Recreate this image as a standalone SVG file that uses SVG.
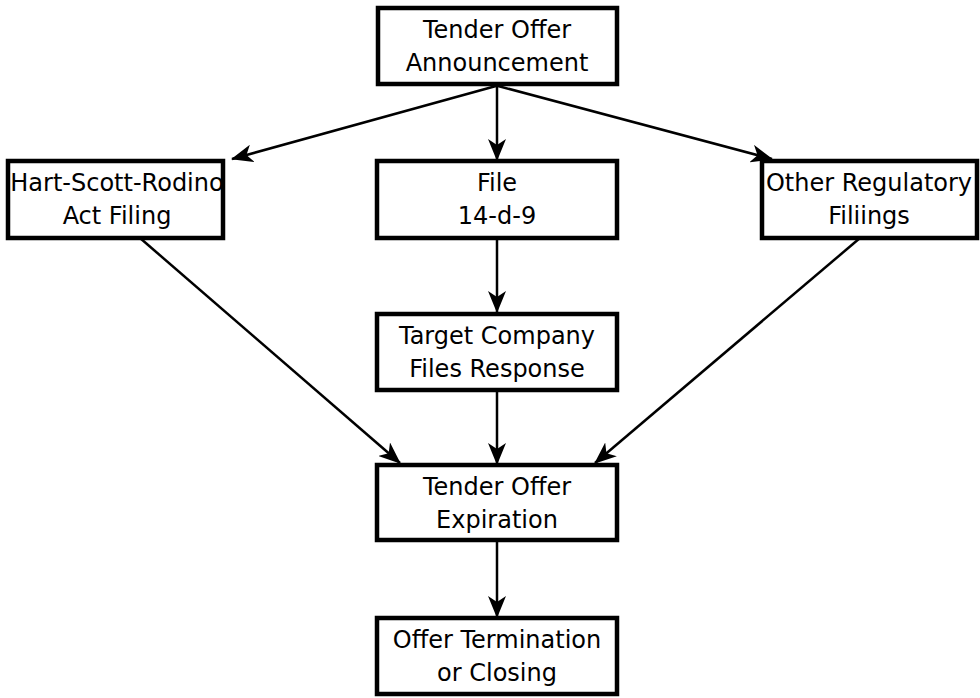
<svg xmlns="http://www.w3.org/2000/svg" width="980" height="698" viewBox="0 0 980 698">
<style>
.box{fill:#fff;stroke:#000;stroke-width:4.5}
.t{font-family:"DejaVu Sans",Verdana,sans-serif;font-size:24px;fill:#000;text-anchor:middle}
.c{stroke:#000;stroke-width:2.5;fill:none;marker-end:url(#ah)}
</style>
<defs>
<marker id="ah" markerWidth="22" markerHeight="18" viewBox="0 0 22 18" refX="21" refY="9" orient="auto" markerUnits="userSpaceOnUse">
<path d="M0,0 L22,9 L0,18 L6,9 Z" fill="#000"/>
</marker>
</defs>
<rect width="980" height="698" fill="#fff"/>
<g id="connectors">
<line class="c" x1="496" y1="86" x2="232" y2="159"/>
<line class="c" x1="497" y1="86" x2="497" y2="160"/>
<line class="c" x1="498" y1="86" x2="772" y2="159"/>
<line class="c" x1="140" y1="238" x2="400" y2="463"/>
<line class="c" x1="497" y1="238" x2="497" y2="312"/>
<line class="c" x1="860" y1="238" x2="595" y2="463"/>
<line class="c" x1="497" y1="390" x2="497" y2="464"/>
<line class="c" x1="497" y1="540" x2="497" y2="617"/>
</g>
<g id="announce"><rect class="box" x="378" y="8" width="239" height="76"/><text class="t" x="497" y="38">Tender Offer</text><text class="t" x="497" y="71">Announcement</text></g>
<g id="hsr"><rect class="box" x="8" y="161" width="215" height="77"/><text class="t" x="117" y="191">Hart-Scott-Rodino</text><text class="t" x="117" y="224">Act Filing</text></g>
<g id="file"><rect class="box" x="377" y="161" width="240" height="77"/><text class="t" x="497" y="191">File</text><text class="t" x="497" y="224">14-d-9</text></g>
<g id="other"><rect class="box" x="762" y="161" width="215" height="77"/><text class="t" x="869" y="191">Other Regulatory</text><text class="t" x="869" y="224">Filiings</text></g>
<g id="target"><rect class="box" x="377" y="314" width="240" height="76"/><text class="t" x="497" y="344">Target Company</text><text class="t" x="497" y="377">Files Response</text></g>
<g id="expire"><rect class="box" x="377" y="465" width="240" height="75"/><text class="t" x="497" y="495">Tender Offer</text><text class="t" x="497" y="528">Expiration</text></g>
<g id="close"><rect class="box" x="377" y="618" width="240" height="76"/><text class="t" x="497" y="648">Offer Termination</text><text class="t" x="497" y="681">or Closing</text></g>
</svg>
